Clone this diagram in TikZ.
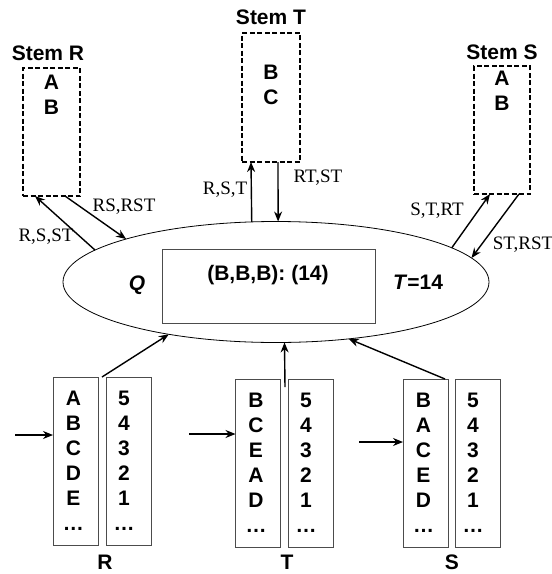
\documentclass[tikz,border=0pt]{standalone}
\usepackage{fontspec}
\setmainfont{Liberation Serif}
\setsansfont{Liberation Sans}
\usetikzlibrary{shapes.geometric,arrows.meta}

\begin{document}
\begin{tikzpicture}
[x=1pt,y=-1pt,
 lineDecorate/.style={-{Stealth[length=10pt,width=8pt]},line width=1.4pt},
 stemDecorate/.style={shape=rectangle,draw,dash pattern=on 5pt off 2.5pt,line width=1.6pt,inner sep=0pt,outer sep=0pt},
 colDecorate/.style={shape=rectangle,draw=black!70,line width=1pt,inner sep=0pt,outer sep=0pt,minimum width=45pt,minimum height=168pt},
 textDecorate/.style={font=\sffamily\bfseries\fontsize{21}{25}\selectfont,align=center,inner sep=0pt},
 labelDecorate/.style={font=\rmfamily\fontsize{19}{21}\selectfont,inner sep=0pt}]

 \useasboundingbox (0,0) rectangle (552,574);

 % stems
 \foreach \nodename/\x/\y/\w/\h/\ty/\txt in {
R/51.5/132/57/128/95/A\\B,
T/271/97.5/58/129/85/B\\C,
S/502/130/56/128/91/A\\B
 }
 {
          \node (stem\nodename) at (\x,\y) [stemDecorate, minimum width=\w, minimum height=\h] {};
          \node (stem\nodename txt) at (\x,\ty) [textDecorate] {\txt};
 }
 \node (stemRlab) at (48,53) [textDecorate] {Stem R};
 \node (stemTlab) at (271,17) [textDecorate] {Stem T};
 \node (stemSlab) at (502,52) [textDecorate] {Stem S};

 % the pool Q
 \node (Q) at (276,282) [shape=ellipse,draw,line width=0.8pt,minimum width=426pt,minimum height=121pt,inner sep=0pt,outer sep=0pt] {};
 \node (tuple) at (268.5,286) [shape=rectangle,draw=black!70,line width=1pt,minimum width=213pt,minimum height=74pt,outer sep=0pt] {};
 \node (tupletxt) at (268,275) [textDecorate] {(B,B,B): (14)};
 \node (Qlab) at (137,285) [textDecorate] {\textit{Q}};
 \node (Tlab) at (418,282) [textDecorate] {\textit{T}=14};

 % columns
 \foreach \nodename/\xl/\xn/\y/\lx/\iny/\inx/\letters in {
R/75.5/129/461/105/435/15/A\\B\\C\\D\\E\\\dots,
T/258/311/463/287/434/189/B\\C\\E\\A\\D\\\dots,
S/425.5/478/463/452/442/359/B\\A\\C\\E\\D\\\dots
 }
 {
          \node (\nodename l) at (\xl,\y) [colDecorate] {};
          \node (\nodename n) at (\xn,\y) [colDecorate] {};
          \node (\nodename ltxt) at (\xl-2,\y) [textDecorate] {\letters};
          \node (\nodename ntxt) at (\xn-5,\y) [textDecorate] {5\\4\\3\\2\\1\\\dots};
          \node (\nodename lab) at (\lx,569) [textDecorate, anchor=base] {\nodename};
          \coordinate (in\nodename) at (\inx,\iny);
          \draw[lineDecorate,line width=1.2pt] (in\nodename) -- (\nodename l.west |- in\nodename);
 }

 % edge labels
 \node (rsst) at (46,237) [labelDecorate] {R,S,ST};
 \node (rsrst) at (124,207) [labelDecorate] {RS,RST};
 \node (rst) at (225,190) [labelDecorate] {R,S,T};
 \node (rtst) at (318,178) [labelDecorate] {RT,ST};
 \node (strt) at (437,211) [labelDecorate] {S,T,RT};
 \node (strst) at (523,245) [labelDecorate] {ST,RST};

\path
 (Q.170) edge[lineDecorate] ([xshift=12pt]stemR.south west)
 ([xshift=-15pt]stemR.south east) edge[lineDecorate] (Q.164.6)
 (Q.112.6) edge[lineDecorate] ([xshift=9pt]stemT.south west)
 ([xshift=-22pt]stemT.south east) edge[lineDecorate] (Q.88)
 (Q.11.6) edge[lineDecorate] ([xshift=16pt]stemS.south west)
 ([xshift=-11pt]stemS.south east) edge[lineDecorate] (Q.7.5)
 ([xshift=4pt]Rl.north east) edge[lineDecorate] (Q.206.3)
 ([xshift=4.5pt,yshift=-8pt]Tl.north east) edge[lineDecorate] (Q.278.8)
 ([xshift=-3pt]Sl.north east) edge[lineDecorate] (Q.322);

\end{tikzpicture}
\end{document}
